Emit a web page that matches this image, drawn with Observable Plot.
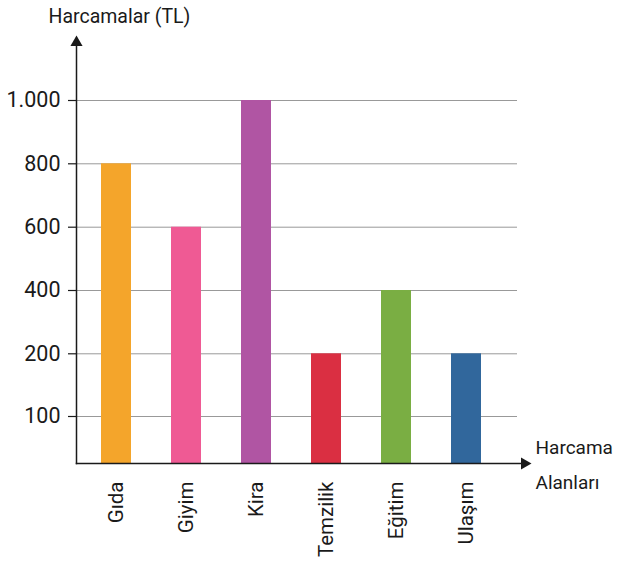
<!DOCTYPE html>
<html>
<head>
<meta charset="utf-8">
<script src="https://cdn.jsdelivr.net/npm/d3@7"></script>
<script src="https://cdn.jsdelivr.net/npm/@observablehq/plot@0.6"></script>
<style>
  body { margin: 0; background: #fff; }
</style>
</head>
<body>
<div id="chart"></div>
<script>
const categories = ["Gıda", "Giyim", "Kira", "Temzilik", "Eğitim", "Ulaşım"];
const values = [800, 600, 1000, 200, 400, 200];
const colors = ["#F4A52B", "#EF5A94", "#B055A3", "#DA2F42", "#7AAE43", "#31679C"];
const yTicks = [100, 200, 400, 600, 800, 1000];
const yTitle = "Harcamalar (TL)";
const xTitle = "Harcama\nAlanları";

const data = categories.map((c, i) => ({cat: c, value: values[i]}));
const fmt = d3.formatLocale({decimal: ",", thousands: ".", grouping: [3], currency: ["", ""]}).format(",");
const font = "Roboto, sans-serif";

const chart = Plot.plot({
  width: 617,
  height: 562,
  marginLeft: 76,
  marginRight: 90,
  marginTop: 38,
  marginBottom: 99,
  style: {fontSize: "20px", fontFamily: font, color: "#1a1a1a", overflow: "visible"},
  x: {domain: categories, range: [81, 501], paddingInner: 0.5714, paddingOuter: 0.2857, label: null},
  y: {type: "linear", domain: [0, 100, 200, 400, 600, 800, 1000, 1200], range: [463, 416, 353.3, 290, 226.7, 163.3, 100, 38], label: null},
  color: {domain: categories, range: colors},
  marks: [
    Plot.ruleY(yTicks, {stroke: "#999", strokeWidth: 1, insetRight: 10}),
    Plot.barY(data, {x: "cat", y: "value", fill: "cat"}),
    Plot.axisY({ticks: yTicks, tickSize: 8, tickPadding: 8, tickFormat: fmt, label: null, stroke: "#1a1a1a", strokeWidth: 1.2, fontSize: 21.5}),
    Plot.axisX({tickSize: 0, tickRotate: -90, tickPadding: 18, label: null, fontSize: 20.5}),
    Plot.frame({anchor: "left", stroke: "#1a1a1a", strokeWidth: 1.5}),
    Plot.frame({anchor: "bottom", stroke: "#1a1a1a", strokeWidth: 1.5}),
    Plot.dot([0], {frameAnchor: "top-left", symbol: "triangle", r: 4.5, fill: "#1a1a1a", stroke: null, dy: 4}),
    Plot.dot([0], {frameAnchor: "bottom-right", symbol: "triangle", r: 4.5, fill: "#1a1a1a", stroke: null, rotate: 90, dx: -3}),
    Plot.text([yTitle], {frameAnchor: "top-left", text: d => d, dx: -28, dy: -22, textAnchor: "start", lineAnchor: "middle", fontSize: 19.5, fill: "#1a1a1a"}),
    Plot.text([xTitle], {frameAnchor: "bottom-right", text: d => d, dx: 8, dy: -3, textAnchor: "start", lineAnchor: "middle", lineHeight: 1.84, fontSize: 19, fill: "#1a1a1a"})
  ]
});
document.getElementById("chart").appendChild(chart);
</script>
</body>
</html>
